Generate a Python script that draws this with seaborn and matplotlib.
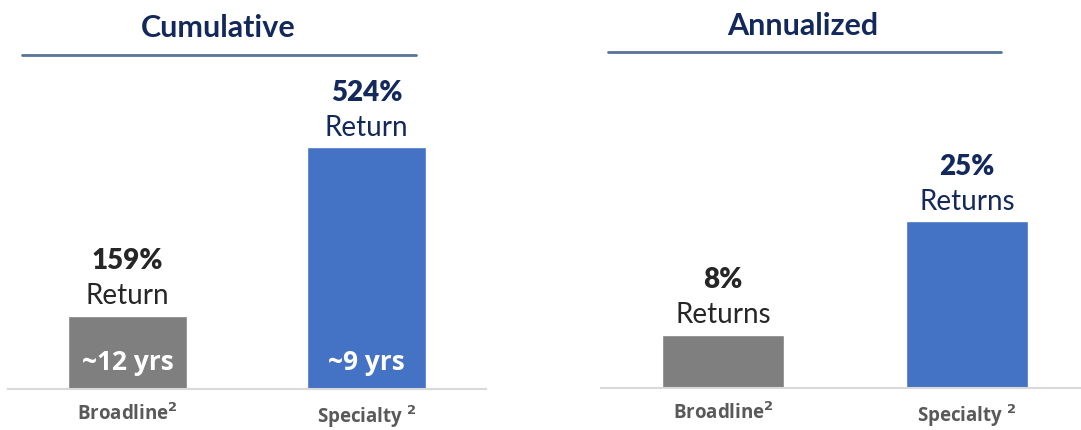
import matplotlib
matplotlib.use("Agg")
import matplotlib.pyplot as plt
from matplotlib.lines import Line2D
import seaborn as sns

# data
categories = ["Broadline", "Specialty"]
tick_labels = [r"Broadline$^{\mathbf{2}}$", r"Specialty $^{\mathbf{2}}$"]
cumulative = [159, 524]
annualized = [8, 25]
cum_labels = ["159%", "524%"]
ann_labels = ["8%", "25%"]
years = ["~12 yrs", "~9 yrs"]

bar_colors = ["#7f7f7f", "#4472c4"]
label_colors = ["#262626", "#13295b"]
navy = "#13295b"

sns.set_style("white")
plt.rcParams["font.family"] = ["Lato", "DejaVu Sans"]

W, H = 1081, 431
fig = plt.figure(figsize=(W / 100, H / 100), dpi=100)


def panel(rect, values, val_labels, sub, ylim, xlim, inside=None):
    ax = fig.add_axes(rect)
    sns.barplot(x=categories, y=values, hue=categories, palette=bar_colors,
                width=0.5, saturation=1, legend=False, ax=ax)
    ax.set_xlim(*xlim)
    ax.set_ylim(0, ylim)
    ax.set_yticks([])
    ax.set_xticks(range(len(categories)))
    ax.set_xticklabels(tick_labels, fontsize=13.5, fontweight="bold",
                       color="#595959", family=["Open Sans", "DejaVu Sans"])
    ax.tick_params(axis="x", length=0, pad=10)
    for s in ["top", "left", "right"]:
        ax.spines[s].set_visible(False)
    ax.spines["bottom"].set_color("#d9d9d9")
    ax.spines["bottom"].set_linewidth(1.5)
    ax.set_xlabel("")
    ax.set_ylabel("")
    for i, v in enumerate(values):
        ax.annotate(sub, (i, v), xytext=(0, 9), textcoords="offset points",
                    ha="center", va="baseline", fontsize=20, color=label_colors[i],
                    annotation_clip=False)
        ax.annotate(val_labels[i], (i, v), xytext=(0, 34), textcoords="offset points",
                    ha="center", va="baseline", fontsize=20, fontweight="heavy",
                    color=label_colors[i], annotation_clip=False)
        if inside:
            ax.annotate(inside[i], (i, 0), xytext=(0, 14.5), textcoords="offset points",
                        ha="center", va="baseline", fontsize=19, fontweight="bold",
                        color="white", family=["Open Sans", "DejaVu Sans"])
    return ax


panel([8 / W, 41 / H, 478 / W, 330 / H], cumulative, cum_labels, "Return",
      715, (-0.5, 1.5), inside=years)
panel([601 / W, 42 / H, 480 / W, 329 / H], annualized, ann_labels, "Returns",
      49.3, (-0.5, 1.467))

# panel titles with underline
fig.text(218 / W, 1 - 37 / H, "Cumulative", ha="center", va="baseline",
         fontsize=22, fontweight="bold", color=navy)
fig.text(803 / W, 1 - 35 / H, "Annualized", ha="center", va="baseline",
         fontsize=22, fontweight="bold", color=navy)
fig.add_artist(Line2D([22 / W, 416 / W], [1 - 56 / H] * 2, color="#56739a", lw=2))
fig.add_artist(Line2D([608 / W, 1001 / W], [1 - 53 / H] * 2, color="#56739a", lw=2))

fig.savefig("out.png", dpi=100, facecolor="white")
